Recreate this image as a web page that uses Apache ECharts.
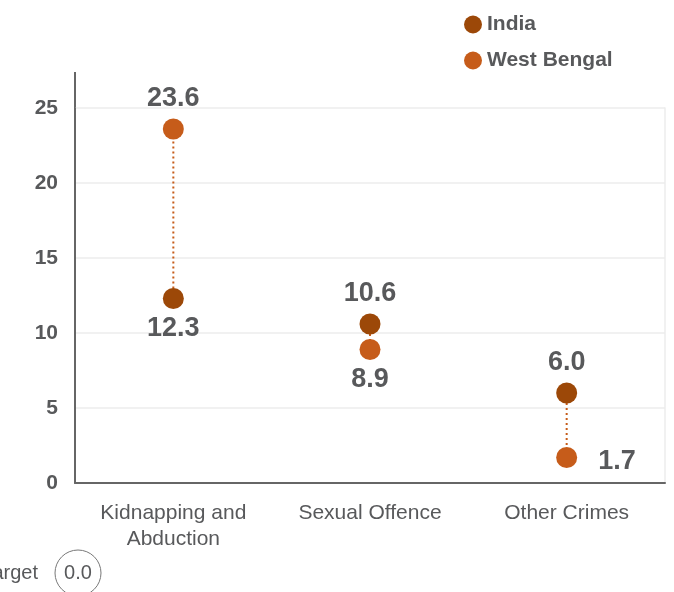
<!DOCTYPE html>
<html lang="en">
<head>
    <meta charset="UTF-8">
    <title>Crime rate India vs West Bengal</title>
    <script src="https://cdn.jsdelivr.net/npm/echarts@6/dist/echarts.min.js"></script>
    <style>
        body { margin: 0; background: #fff; }
    </style>
</head>
<body>
    <div id="chart_div" style="width: 674px; height: 592px;"></div>
</body>
    <script type="text/javascript">

       var categories = ['Kidnapping and\nAbduction', 'Sexual Offence', 'Other Crimes'];
       var india = [12.3, 10.6, 6.0];
       var westBengal = [23.6, 8.9, 1.7];
       var yTicks = [0, 5, 10, 15, 20, 25];

       var cIndia = '#9c4808';
       var cWB = '#c65c1a';
       var textCol = '#58595b';

       // label goes above the higher dot, below the lower one (right when near the axis)
       function labelPos(v, other) {
           if (v >= other) return 'top';
           if (v < 3) return 'right';
           return 'bottom';
       }
       function points(vals, others) {
           var out = [];
           for (var i = 0; i < vals.length; i++) {
               var pos = labelPos(vals[i], others[i]);
               out.push({
                   value: [i, vals[i]],
                   label: {position: pos, distance: pos == 'right' ? 21 : 6, offset: pos == 'right' ? [0, 4] : [0, 0]}
               });
           }
           return out;
       }

       var chart = echarts.init(document.getElementById("chart_div"));
       var options = {
            animation: false,
            textStyle: {fontFamily: 'Liberation Sans, Arial, sans-serif'},
            legend: {
                orient: 'vertical',
                left: 459,
                top: 9,
                itemGap: 15,
                itemWidth: 18,
                itemHeight: 18,
                icon: 'circle',
                textStyle: {fontSize: 21, fontWeight: 'bold', color: textCol},
                data: ['India', 'West Bengal']
            },
            grid: {left: 75, right: 9, top: 108, bottom: 109},
            xAxis: {
                type: 'category',
                data: categories,
                axisTick: {show: false},
                axisLine: {lineStyle: {color: '#666', width: 2}},
                axisLabel: {fontSize: 21, color: textCol, margin: 17, lineHeight: 26, interval: 0}
            },
            yAxis: [{
                type: 'value',
                min: yTicks[0],
                max: yTicks[yTicks.length - 1],
                interval: 5,
                axisLine: {show: true, lineStyle: {color: '#666', width: 2}},
                axisTick: {show: false},
                axisLabel: {fontSize: 21, fontWeight: 'bold', color: textCol, margin: 17},
                splitLine: {lineStyle: {color: '#ececec', width: 1.5}}
            }, {
                type: 'value',
                position: 'right',
                min: yTicks[0],
                max: yTicks[yTicks.length - 1],
                axisLine: {show: true, lineStyle: {color: '#ececec', width: 1.5}},
                axisTick: {show: false},
                axisLabel: {show: false},
                splitLine: {show: false}
            }],
            series: [
                {
                    name: 'link',
                    type: 'custom',
                    z: 1,
                    data: india.map(function (v, i) { return [i, v, westBengal[i]]; }),
                    renderItem: function (params, api) {
                        var a = api.coord([api.value(0), api.value(1)]);
                        var b = api.coord([api.value(0), api.value(2)]);
                        return {
                            type: 'line',
                            shape: {x1: a[0], y1: a[1], x2: b[0], y2: b[1]},
                            style: {stroke: cWB, lineWidth: 2, lineDash: [2, 3]}
                        };
                    }
                },
                {
                    name: 'India',
                    type: 'scatter',
                    z: 3,
                    symbolSize: 21,
                    itemStyle: {color: cIndia, opacity: 1},
                    label: {
                        show: true, fontSize: 27, fontWeight: 'bold', color: textCol,
                        formatter: function (p) { return p.value[1].toFixed(1); }
                    },
                    data: points(india, westBengal)
                },
                {
                    name: 'West Bengal',
                    type: 'scatter',
                    z: 3,
                    symbolSize: 21,
                    itemStyle: {color: cWB, opacity: 1},
                    label: {
                        show: true, fontSize: 27, fontWeight: 'bold', color: textCol,
                        formatter: function (p) { return p.value[1].toFixed(1); }
                    },
                    data: points(westBengal, india)
                }
            ],
            graphic: [
                {type: 'line', shape: {x1: 75, y1: 72, x2: 75, y2: 108}, style: {stroke: '#666', lineWidth: 2}},
                {type: 'text', x: 38, y: 573, style: {text: 'Target', fontSize: 20, fill: textCol, align: 'right', verticalAlign: 'middle'}},
                {type: 'circle', shape: {cx: 78, cy: 573, r: 23}, style: {fill: 'none', stroke: '#777', lineWidth: 1}},
                {type: 'text', x: 78, y: 573, style: {text: '0.0', fontSize: 20, fill: textCol, align: 'center', verticalAlign: 'middle'}}
            ]
       };
       chart.setOption(options);

    </script>
</html>
